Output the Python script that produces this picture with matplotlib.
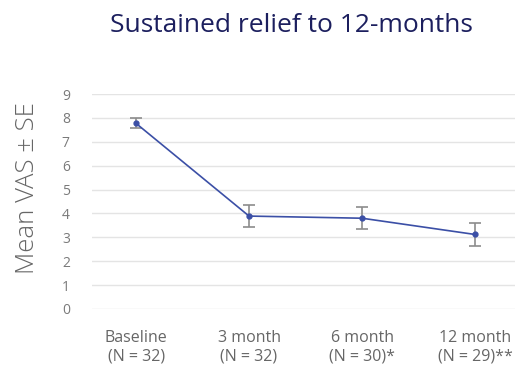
import matplotlib
matplotlib.use("Agg")
import matplotlib.pyplot as plt

categories = ["Baseline\n(N = 32)", "3 month\n(N = 32)", "6 month\n(N = 30)*", "12 month\n(N = 29)**"]
mean_vas = [7.77, 3.89, 3.80, 3.12]
se_vas = [0.21, 0.45, 0.46, 0.47]
yticks = list(range(0, 10))

plt.rcParams['font.family'] = ['Open Sans', 'DejaVu Sans']

fig = plt.figure(figsize=(5.17, 3.67), dpi=100)
ax = fig.add_axes([92/517, 1-309/367, (515-92)/517, (309-94)/367])

x = list(range(len(categories)))
ax.errorbar(x, mean_vas, yerr=se_vas, color='#3b4fa6', lw=1.2, marker='o', ms=3.5,
            ecolor='#8c8c8c', elinewidth=1.2, capsize=4, capthick=1.2, zorder=3)

ax.set_ylim(0, 9)
ax.set_xlim(-0.39, 3.354)
ax.set_yticks(yticks)
ax.set_xticks(x)
ax.set_xticklabels(categories, color='#666666', fontsize=11.5, linespacing=1.2)
ax.tick_params(axis='y', labelcolor='#7a7a7a', labelsize=10, length=0, pad=16)
ax.tick_params(axis='x', length=0, pad=15)
for s in ax.spines.values():
    s.set_visible(False)
ax.grid(axis='y', color='#e4e4e4', lw=1)
ax.set_axisbelow(True)

fig.text(28/517, 1-188/367, "Mean VAS ± SE", rotation=90, ha='center', va='center',
         fontsize=18.5, color='#666666', fontweight='light')
fig.text(291.5/517, 1-25/367, "Sustained relief to 12-months", ha='center', va='center',
         fontsize=19, color='#1c1f5e')

fig.savefig("out.png", dpi=100)
